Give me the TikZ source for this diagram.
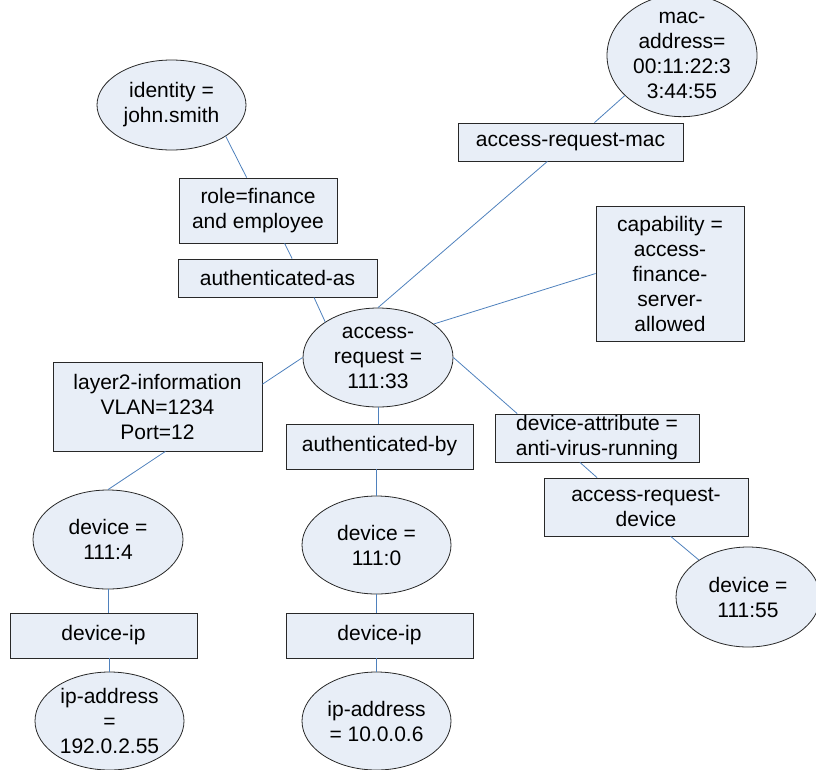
\documentclass[tikz,border=0pt]{standalone}
\usepackage{fontspec}
\setmainfont{Liberation Sans}
\usetikzlibrary{shapes.geometric}
\definecolor{nodefill}{RGB}{232,238,247}
\definecolor{edgeblue}{RGB}{79,129,189}
\definecolor{nodeline}{RGB}{40,40,40}
\begin{document}
\begin{tikzpicture}[x=1pt,y=-1pt,
  every node/.style={font=\fontsize{21}{25}\selectfont, align=center, inner sep=0pt, text=black},
  ell/.style={ellipse, draw=nodeline, line width=0.8pt, fill=nodefill},
  boxn/.style={rectangle, draw=nodeline, line width=0.8pt, fill=nodefill},
  conn/.style={draw=edgeblue, line width=0.8pt}]
\useasboundingbox (0,0) rectangle (816,769);
% nodes
\node[ell, minimum width=149pt, minimum height=90pt] (identity) at (171.5,105) {identity =\\john.smith};
\node[boxn, minimum width=158pt, minimum height=65pt] (role) at (258,210.5) {role=finance\\and employee};
\node[boxn, minimum width=199pt, minimum height=38pt] (authas) at (277.5,278) {authenticated-as};
\node[ell, minimum width=150pt, minimum height=105pt] (mac) at (682,55.5) {mac-\\address=\\00:11:22:3\\3:44:55};
\node[boxn, minimum width=225pt, minimum height=38pt] (armac) at (570.5,142) {access-request-mac};
\node[boxn, minimum width=148pt, minimum height=135pt] (cap) at (670,273.5) {capability =\\access-\\finance-\\server-\\allowed};
\node[ell, minimum width=150pt, minimum height=99pt] (ar) at (378,357.5) {access-\\request =\\111:33};
\node[boxn, minimum width=209pt, minimum height=89pt] (ltwo) at (157.5,406.5) {layer2-information\\VLAN=1234\\Port=12};
\node[ell, minimum width=150pt, minimum height=99pt] (devfour) at (108,539.5) {device =\\111:4};
\node[boxn, minimum width=187pt, minimum height=45pt] (authby) at (379.5,446.5) {authenticated-by};
\node[ell, minimum width=149pt, minimum height=98pt] (devzero) at (376.5,545) {device =\\111:0};
\node[boxn, minimum width=187pt, minimum height=45pt] (dipone) at (103.5,635.5) {device-ip};
\node[ell, minimum width=149pt, minimum height=98pt] (ipone) at (109.5,721) {ip-address\\=\\192.0.2.55};
\node[boxn, minimum width=187pt, minimum height=45pt] (diptwo) at (379.5,635.5) {device-ip};
\node[ell, minimum width=149pt, minimum height=98pt] (iptwo) at (376.5,721) {ip-address\\= 10.0.0.6};
\node[boxn, minimum width=204pt, minimum height=48pt] (dattr) at (597,438) {device-attribute =\\anti-virus-running};
\node[boxn, minimum width=204pt, minimum height=58pt] (ardev) at (646,507) {access-request-\\device};
\node[ell, minimum width=144pt, minimum height=100pt] (devff) at (748,597) {device =\\111:55};
% connectors
\draw[conn] (identity.-30) -- (role.109);
\draw[conn] (role.-51) -- (authas.53);
\draw[conn] (authas.-28) -- (ar.146);
\draw[conn] (armac.39) -- (mac.215.5);
\draw[conn] (ar.90) -- (armac.220);
\draw[conn] (ar.31) -- (cap.180);
\draw[conn] (ar.180) -- (ltwo.12);
\draw[conn] (ar.south) -- (ar.south |- authby.north);
\draw[conn] (ar.0) -- (dattr.163);
\draw[conn] (dattr.-125) -- (ardev.149);
\draw[conn] (ardev.-50) -- (devff.143);
\draw[conn] (ltwo.-80) -- (devfour.90);
\draw[conn] (devfour.south) -- (devfour.south |- dipone.north);
\draw[conn] (ipone.north |- dipone.south) -- (ipone.north);
\draw[conn] (devzero.north |- authby.south) -- (devzero.north);
\draw[conn] (devzero.south) -- (devzero.south |- diptwo.north);
\draw[conn] (iptwo.north |- diptwo.south) -- (iptwo.north);
\end{tikzpicture}
\end{document}
